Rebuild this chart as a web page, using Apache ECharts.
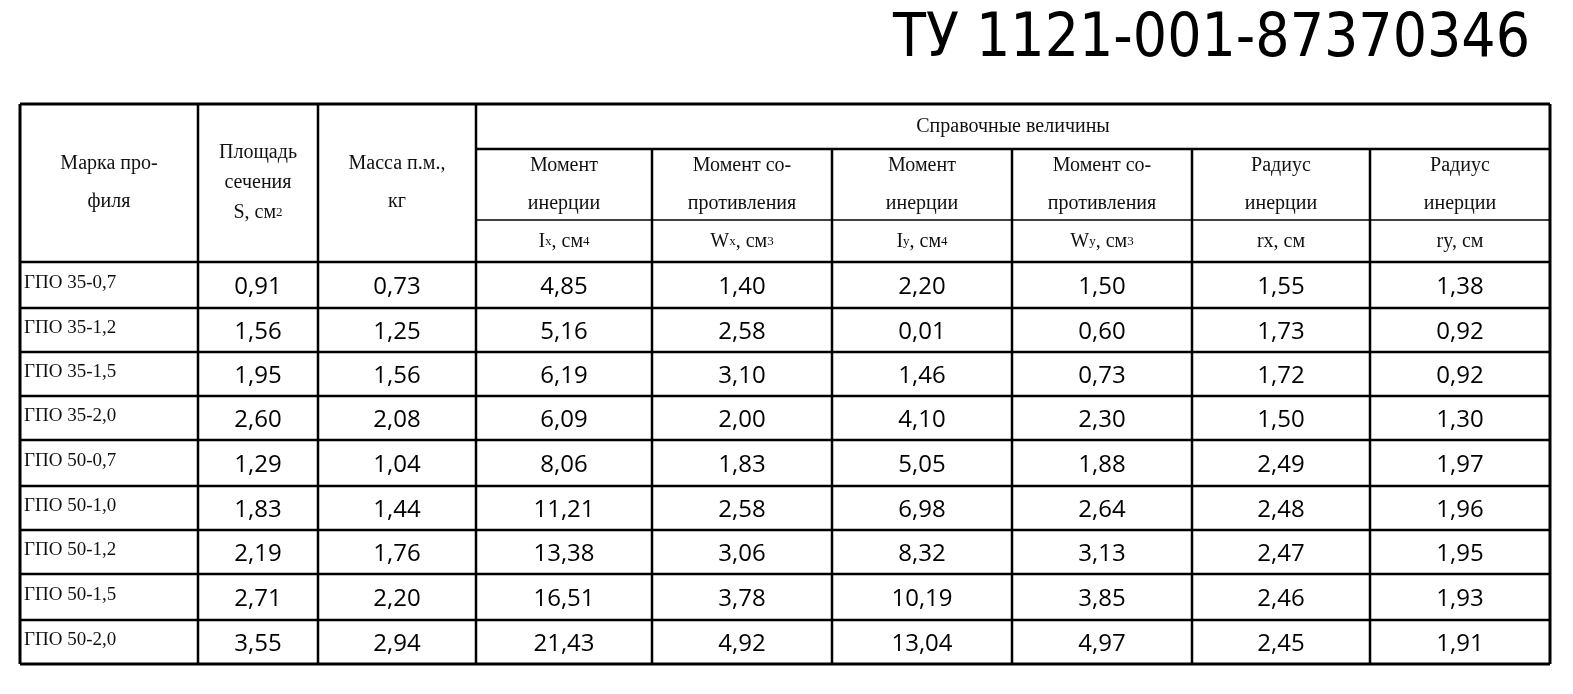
<!DOCTYPE html>
<html><head><meta charset="utf-8">
<script src="https://cdn.jsdelivr.net/npm/echarts@6/dist/echarts.min.js"></script>
<style>html,body{margin:0;background:#fff}#c{width:1573px;height:694px}</style>
</head><body><div id="c"></div>
<script>
// данные таблицы
const title = 'ТУ 1121-001-87370346';
const marks = ['ГПО 35-0,7','ГПО 35-1,2','ГПО 35-1,5','ГПО 35-2,0','ГПО 50-0,7','ГПО 50-1,0','ГПО 50-1,2','ГПО 50-1,5','ГПО 50-2,0'];
const area = ['0,91','1,56','1,95','2,60','1,29','1,83','2,19','2,71','3,55'];
const mass = ['0,73','1,25','1,56','2,08','1,04','1,44','1,76','2,20','2,94'];
const ix = ['4,85','5,16','6,19','6,09','8,06','11,21','13,38','16,51','21,43'];
const wx = ['1,40','2,58','3,10','2,00','1,83','2,58','3,06','3,78','4,92'];
const iy = ['2,20','0,01','1,46','4,10','5,05','6,98','8,32','10,19','13,04'];
const wy = ['1,50','0,60','0,73','2,30','1,88','2,64','3,13','3,85','4,97'];
const rx = ['1,55','1,73','1,72','1,50','2,49','2,48','2,47','2,46','2,45'];
const ry = ['1,38','0,92','0,92','1,30','1,97','1,96','1,95','1,93','1,91'];
const groupHeader = 'Справочные величины';
const subHeaders = ['Момент\nинерции','Момент со-\nпротивления','Момент\nинерции','Момент со-\nпротивления','Радиус\nинерции','Радиус\nинерции'];
const unitHeaders = ['{n|I}{s|x}{n|, см}{s|4}','{n|W}{s|x}{n|, см}{s|3}','{n|I}{s|y}{n|, см}{s|4}','{n|W}{s|y}{n|, см}{s|3}','{n|rx, см}','{n|ry, см}'];

const colX = [20,198,318,476,652,832,1012,1192,1370,1550];
const rowY = [104,149,220,262,308,352,396,440,486,530,574,620,664];
const els = [];
const line = (x1,y1,x2,y2,w) => els.push({type:'line',shape:{x1,y1,x2,y2},style:{stroke:'#000',lineWidth:w||2.5}});
const serif = '"Liberation Serif", serif';
const rich = {n:{fontFamily:serif,fontSize:20,fill:'#111'},s:{fontFamily:serif,fontSize:13,fill:'#111'}};
const txt = (x,y,text,o) => els.push({type:'text',x,y,style:Object.assign({text,fill:'#111',font:'20px '+serif,align:'center',verticalAlign:'middle',lineHeight:38},o||{})});

// линии
line(colX[0],rowY[0],colX[9],rowY[0],3);
line(colX[0],rowY[rowY.length-1],colX[9],rowY[rowY.length-1],3);
colX.forEach((x,i)=>line(x,i>3&&i<9?rowY[1]:rowY[0],x,rowY[rowY.length-1],i===0||i===9?3:2.5));
line(colX[3],rowY[1],colX[9],rowY[1]);
line(colX[3],rowY[2],colX[9],rowY[2],1.5);
for(let r=3;r<rowY.length-1;r++) line(colX[0],rowY[r],colX[9],rowY[r]);

// шапка
txt(1530,40,title,{font:'60px "DejaVu Sans Condensed", "DejaVu Sans", sans-serif',fill:'#000',align:'right'});
txt(109,183,'Марка про-\nфиля',{lineHeight:38});
txt(258,183,'Площадь\nсечения\n{n|S, см}{s|2}',{lineHeight:30,rich});
txt(397,183,'Масса п.м.,\nкг',{lineHeight:38});
txt((colX[3]+colX[9])/2,127,groupHeader);
subHeaders.forEach((t,i)=>txt((colX[3+i]+colX[4+i])/2,185,t,{lineHeight:38}));
unitHeaders.forEach((t,i)=>txt((colX[3+i]+colX[4+i])/2,242,t,{rich}));

// данные
const cols = [area,mass,ix,wx,iy,wy,rx,ry];
const numFont = '24px "Open Sans", "Liberation Sans", sans-serif';
marks.forEach((m,r)=>{
  const cy = (rowY[3+r]+rowY[4+r])/2;
  txt(24,cy-2,m,{align:'left',font:'19px '+serif});
  cols.forEach((c,j)=>txt((colX[1+j]+colX[2+j])/2,cy+2,c[r],{font:numFont,fill:'#000'}));
});

const chart = echarts.init(document.getElementById('c'));
chart.setOption({animation:false,graphic:{elements:els}});
</script></body></html>
